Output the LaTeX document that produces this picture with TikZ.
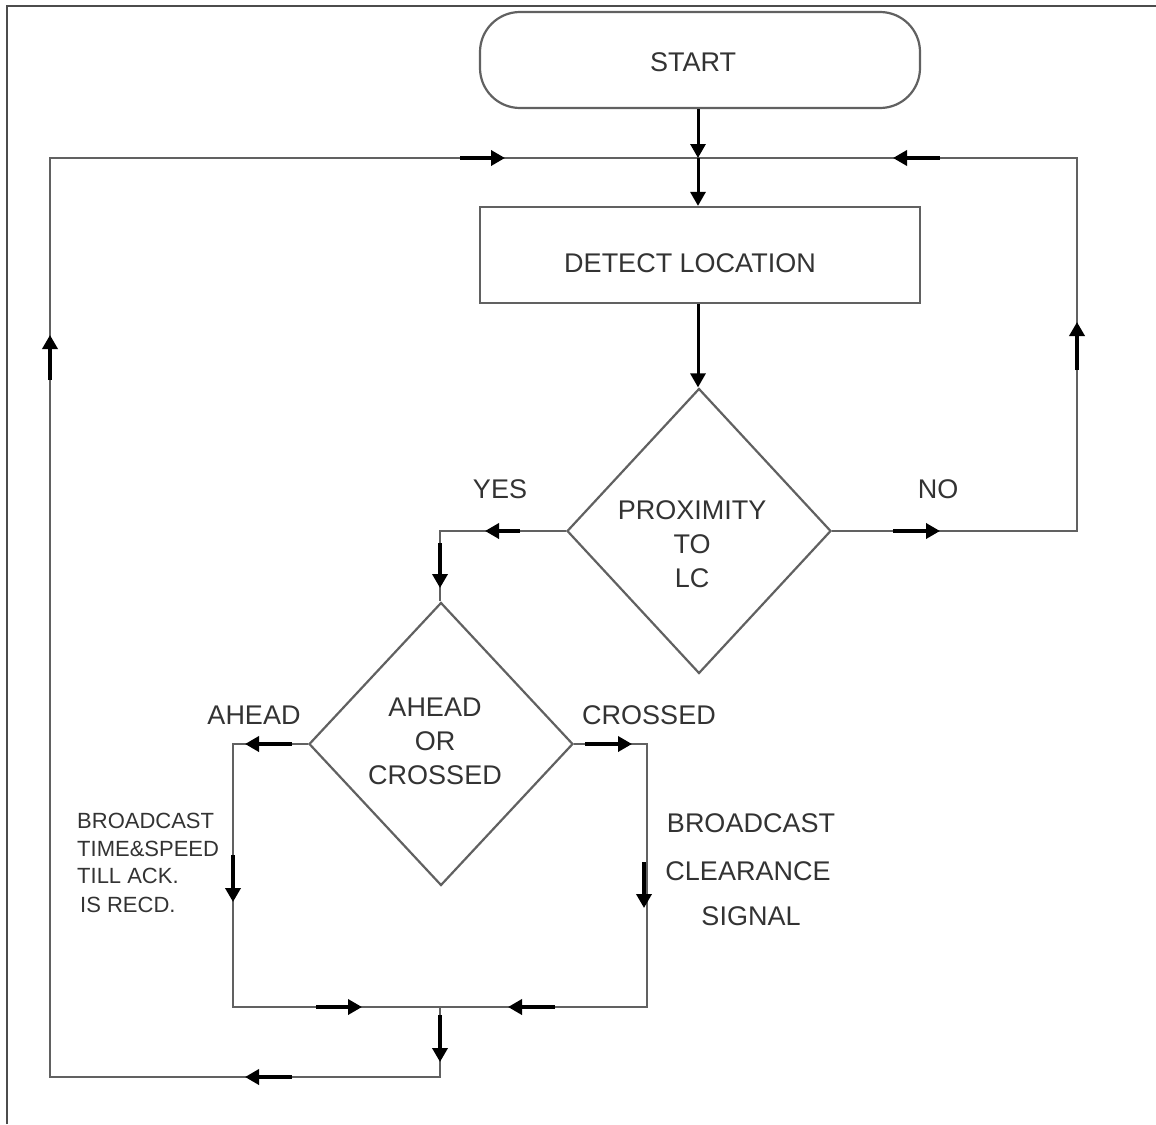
\documentclass[tikz,border=0pt]{standalone}
\usepackage{fontspec}
\setmainfont{Liberation Sans}
\usetikzlibrary{shapes.geometric,arrows.meta,calc}
\begin{document}
\begin{tikzpicture}[x=1pt,y=-1pt,
  ln/.style={draw=black!62,line width=2.2pt},
  mk/.style={black,line width=3.5pt,-{Triangle[length=14pt,width=15pt]}},
  mainarr/.style={black,line width=3pt,-{Triangle[length=14pt,width=15pt]}},
  lbl/.style={font=\fontsize{27}{34}\selectfont,text=black!80,inner sep=0pt,align=center},
  small/.style={font=\fontsize{22}{28}\selectfont,text=black!80,inner sep=0pt},
  ]
\useasboundingbox (0,0) rectangle (1156,1124);
% page frame (top and left only)
\draw[black!70,line width=2pt] (7,1124) -- (7,6) -- (1156,6);

% shapes
\node[ln,rounded corners=40pt,minimum width=440pt,minimum height=96pt] (start) at (700,60) {};
\node[lbl] (starttxt) at (693,62) {START};
\node[ln,minimum width=440pt,minimum height=96pt] (detect) at (700,255) {};
\node[lbl] (detecttxt) at (690,263) {DETECT LOCATION};
\node[ln,diamond,minimum width=264pt,minimum height=285pt,inner sep=0pt] (prox) at (699,531) {};
\node[lbl] (proxtxt) at (692,544) {PROXIMITY\\TO\\LC};
\node[ln,diamond,minimum width=264pt,minimum height=283pt,inner sep=0pt] (ahead) at (441,744) {};
\node[lbl] (aheadtxt) at (435,741) {AHEAD\\OR\\CROSSED};

% corner coordinates
\coordinate (j1) at (698,158);
\coordinate (nR) at (1077,531);
\coordinate (tR) at (1077,158);
\coordinate (yL) at (440,531);
\coordinate (aL) at (233,744);
\coordinate (cR) at (647,744);
\coordinate (bL) at (233,1007);
\coordinate (bR) at (647,1007);
\coordinate (bM) at (440,1007);
\coordinate (lB) at (440,1077);
\coordinate (lL) at (50,1077);
\coordinate (tL) at (50,158);

% grey connectors
\draw[ln] (prox.east) -- (nR) -- (tR) -- (j1);
\draw[ln] (bM) -- (lB) -- (lL) -- (tL) -- (j1);
\draw[ln] (prox.west) -- (yL) -- (yL |- ahead.north);
\draw[ln] (ahead.west) -- (aL) -- (bL) -- (bR) -- (cR) -- (ahead.east);

% main black arrows
\draw[mainarr] (j1 |- start.south) -- (j1);
\draw[mainarr] (j1) -- (j1 |- detect.north);
\draw[mainarr] (j1 |- detect.south) -- (j1 |- prox.north);

% direction markers
\draw[mk] ($(tL)+(410,0)$) -- ++(45,0);
\draw[mk] ($(tR)+(-137,0)$) -- ++(-47,0);
\draw[mk] ($(tR)+(0,212)$) -- ++(0,-48);
\draw[mk] ($(nR)+(-184,0)$) -- ++(47,0);
\draw[mk] ($(yL)+(80,0)$) -- ++(-35,0);
\draw[mk] ($(yL)+(0,12)$) -- ++(0,45);
\draw[mk] ($(aL)+(59,0)$) -- ++(-47,0);
\draw[mk] ($(aL)+(0,111)$) -- ++(0,47);
\draw[mk] ($(cR)+(-62,0)$) -- ++(47,0);
\draw[mk] ($(cR)+(-3,118)$) -- ++(0,46);
\draw[mk] ($(bL)+(83,0)$) -- ++(46,0);
\draw[mk] ($(bR)+(-92,0)$) -- ++(-47,0);
\draw[mk] ($(bM)+(0,8)$) -- ++(0,47);
\draw[mk] ($(lL)+(242,0)$) -- ++(-47,0);
\draw[mk] ($(tL)+(0,222)$) -- ++(0,-45);

% branch labels
\node[lbl] (yes) at (500,489) {YES};
\node[lbl] (no) at (938,489) {NO};
\node[lbl] (aheadlbl) at (254,715) {AHEAD};
\node[lbl] (crossedlbl) at (649,715) {CROSSED};

% side texts
\node[small,anchor=base west] (l1) at (77,828) {BROADCAST};
\node[small,anchor=base west] (l2) at (77,856) {TIME\&SPEED};
\node[small,anchor=base west] (l3) at (77,883) {TILL ACK.};
\node[small,anchor=base west] (l4) at (80,912) {IS RECD.};
\node[lbl,anchor=base] (r1) at (751,832) {BROADCAST};
\node[lbl,anchor=base] (r2) at (748,880) {CLEARANCE};
\node[lbl,anchor=base] (r3) at (751,925) {SIGNAL};
\end{tikzpicture}
\end{document}
